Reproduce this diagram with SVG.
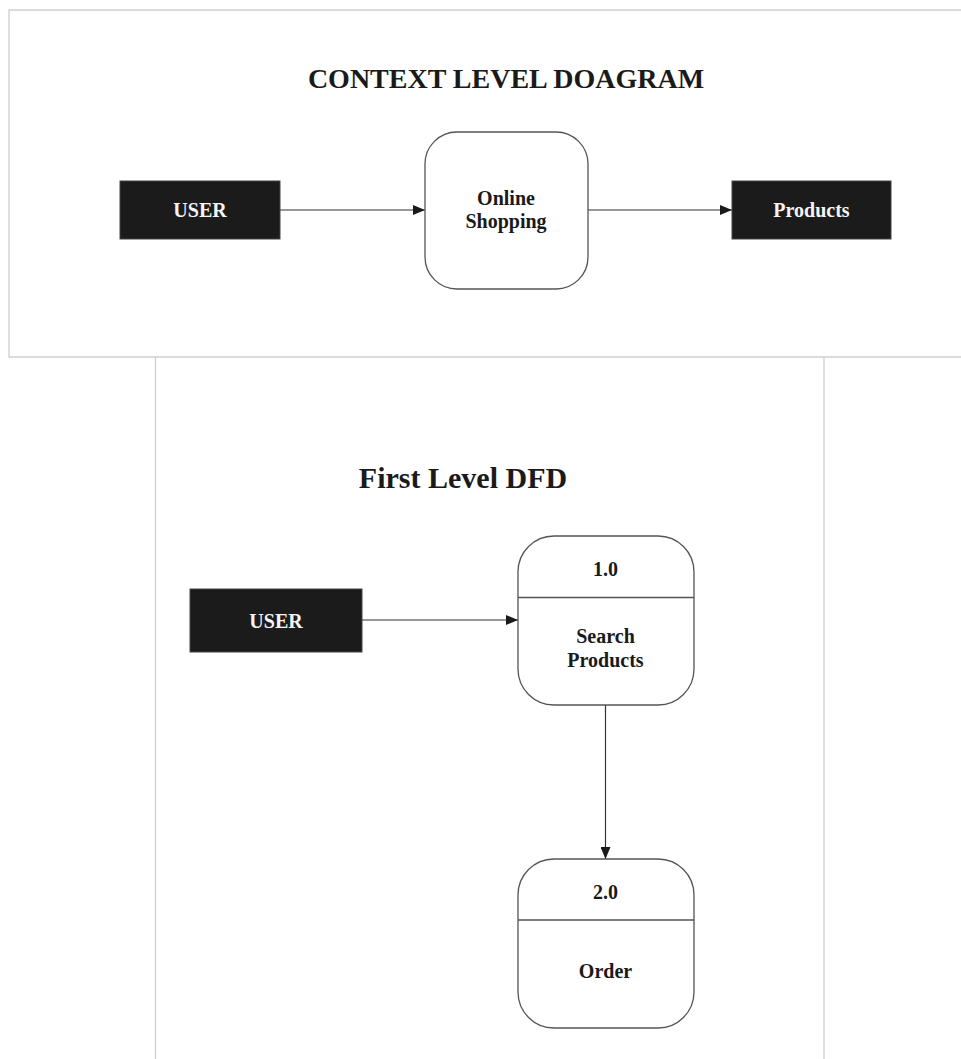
<svg xmlns="http://www.w3.org/2000/svg" width="961" height="1059" viewBox="0 0 961 1059">
<style>
.frame{fill:none;stroke:#cfcfcf;stroke-width:1.3}
.ext{fill:#1b1b1b;stroke:#444;stroke-width:1}
.proc{fill:#fff;stroke:#555;stroke-width:1.3}
.div{stroke:#555;stroke-width:1.3}
.edge{stroke:#333;stroke-width:1.2;fill:none;marker-end:url(#arr)}
text{font-family:"Liberation Serif","Times New Roman",serif;font-weight:bold;text-anchor:middle}
.title{font-size:28px;fill:#1a1a1a}
.lbl{font-size:20px;fill:#1a1a1a}
.wlbl{font-size:20px;fill:#f4f4f4}
</style>
<defs>
<marker id="arr" viewBox="0 0 12 10" refX="12" refY="5" markerWidth="12" markerHeight="10" markerUnits="userSpaceOnUse" orient="auto">
<path d="M0,0 L12,5 L0,10 Z" fill="#1a1a1a"/>
</marker>
</defs>
<rect width="961" height="1059" fill="#fff"/>
<g id="frames">
<path class="frame" d="M961,10 H9 V357 H961"/>
<path class="frame" d="M155.5,357 V1059 M824,357 V1059"/>
</g>
<text class="title" x="506" y="88">CONTEXT LEVEL DOAGRAM</text>
<text class="title" x="463" y="488" style="font-size:30px">First Level DFD</text>
<g id="connectors">
<line class="edge" x1="280" y1="210" x2="425" y2="210"/>
<line class="edge" x1="588" y1="210" x2="732" y2="210"/>
<line class="edge" x1="362" y1="620" x2="518" y2="620"/>
<line class="edge" x1="605.5" y1="705" x2="605.5" y2="859"/>
</g>
<g id="ctx-user">
<rect class="ext" x="120" y="181" width="160" height="58"/>
<text class="wlbl" x="200" y="217">USER</text>
</g>
<g id="ctx-online-shopping">
<rect class="proc" x="425" y="132" width="163" height="157" rx="32"/>
<text class="lbl" x="506" y="205">Online</text>
<text class="lbl" x="506" y="228">Shopping</text>
</g>
<g id="ctx-products">
<rect class="ext" x="732" y="181" width="159" height="58"/>
<text class="wlbl" x="811.5" y="217">Products</text>
</g>
<g id="dfd-user">
<rect class="ext" x="190" y="589" width="172" height="63"/>
<text class="wlbl" x="276" y="628">USER</text>
</g>
<g id="p1">
<rect class="proc" x="518" y="536" width="176" height="169" rx="36"/>
<line class="div" x1="518" y1="597.5" x2="694" y2="597.5"/>
<text class="lbl" x="605.5" y="576">1.0</text>
<text class="lbl" x="605.5" y="643">Search</text>
<text class="lbl" x="605.5" y="667">Products</text>
</g>
<g id="p2">
<rect class="proc" x="518" y="859" width="176" height="169" rx="36"/>
<line class="div" x1="518" y1="920" x2="694" y2="920"/>
<text class="lbl" x="605.5" y="898.5">2.0</text>
<text class="lbl" x="605.5" y="977.5">Order</text>
</g>
</svg>
